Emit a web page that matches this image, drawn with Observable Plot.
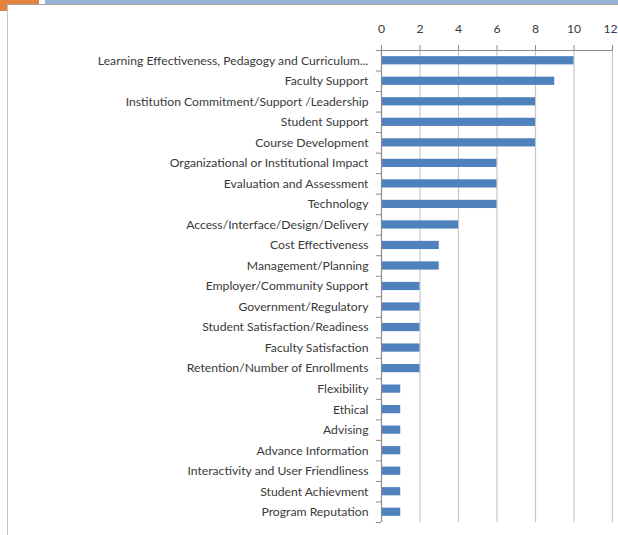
<!DOCTYPE html>
<html>
<head>
<meta charset="utf-8">
<script src="https://cdn.jsdelivr.net/npm/d3@7"></script>
<script src="https://cdn.jsdelivr.net/npm/@observablehq/plot@0.6"></script>
<style>
  html, body { margin: 0; padding: 0; background: #fff; }
  #wrap { position: relative; width: 618px; height: 535px; overflow: hidden; background: #fff; }
  .deco { position: absolute; }
  #chart { position: absolute; left: 0; top: 0; }
</style>
</head>
<body>
<div id="wrap">
  <div class="deco" style="left:0;top:0;width:39px;height:11px;background:#E5823F;"></div>
  <div class="deco" style="left:45px;top:0;width:573px;height:4px;background:#95B3D7;"></div>
  <div class="deco" style="left:7px;top:4px;width:611px;height:1.5px;background:#A6A6A6;"></div>
  <div class="deco" style="left:7px;top:5px;width:611px;height:530px;background:#fff;border-left:1.5px solid #C4C4C4;"></div>
  <div id="chart"></div>
</div>
<script>
const categories = [
  "Learning Effectiveness, Pedagogy and Curriculum...",
  "Faculty Support",
  "Institution Commitment/Support /Leadership",
  "Student Support",
  "Course Development",
  "Organizational or Institutional Impact",
  "Evaluation and Assessment",
  "Technology",
  "Access/Interface/Design/Delivery",
  "Cost Effectiveness",
  "Management/Planning",
  "Employer/Community Support",
  "Government/Regulatory",
  "Student Satisfaction/Readiness",
  "Faculty Satisfaction",
  "Retention/Number of Enrollments",
  "Flexibility",
  "Ethical",
  "Advising",
  "Advance Information",
  "Interactivity and User Friendliness",
  "Student Achievment",
  "Program Reputation"
];
const values = [10, 9, 8, 8, 8, 6, 6, 6, 4, 3, 3, 2, 2, 2, 2, 2, 1, 1, 1, 1, 1, 1, 1];
const xTicks = [0, 2, 4, 6, 8, 10, 12];

const data = categories.map((c, i) => ({category: c, value: values[i]}));

const H = 535, mTop = 50, mBottom = 13;
const step = (H - mTop - mBottom) / categories.length;
const lastCat = categories[categories.length - 1];
const lastTick = xTicks[xTicks.length - 1];

const chart = Plot.plot({
  width: 618,
  height: H,
  marginLeft: 381,
  marginRight: 6,
  marginTop: mTop,
  marginBottom: mBottom,
  style: {fontFamily: "Lato, 'Open Sans', sans-serif", fontSize: "12.2px", background: "transparent", color: "#3a3a3a"},
  x: {domain: [0, 12], axis: null},
  y: {domain: categories, paddingInner: 0.6, paddingOuter: 0.3, round: false, axis: null},
  marks: [
    Plot.ruleX(xTicks.slice(1), {stroke: "#C6C6C6", strokeWidth: 1.2}),
    Plot.barX(data, {x: "value", y: "category", fill: "#4F81BD"}),
    Plot.ruleY([categories[0]], {x1: 0, x2: 12, dy: -step / 2, stroke: "#8C8C8C", strokeWidth: 1.2}),
    Plot.ruleX([0], {stroke: "#8C8C8C", strokeWidth: 1.2}),
    Plot.axisX({anchor: "top", ticks: xTicks, tickSize: 6, tickPadding: 12, stroke: "#8C8C8C", fill: "#3a3a3a", label: null, fontSize: 12.2, tickFormat: (d) => d === lastTick ? "" : d}),
    Plot.axisX({anchor: "top", ticks: [lastTick], tickSize: 0, tickPadding: 18, dx: -2, fill: "#3a3a3a", label: null, fontSize: 12.2}),
    Plot.ruleY(categories, {x1: -0.27, x2: 0, dy: -step / 2, stroke: "#8C8C8C"}),
    Plot.ruleY([lastCat], {x1: -0.27, x2: 0, dy: step / 2, stroke: "#8C8C8C"}),
    Plot.axisY({anchor: "left", tickSize: 0, tickPadding: 13, fill: "#3a3a3a", label: null, fontSize: 12.2})
  ]
});
document.getElementById("chart").appendChild(chart);
</script>
</body>
</html>
